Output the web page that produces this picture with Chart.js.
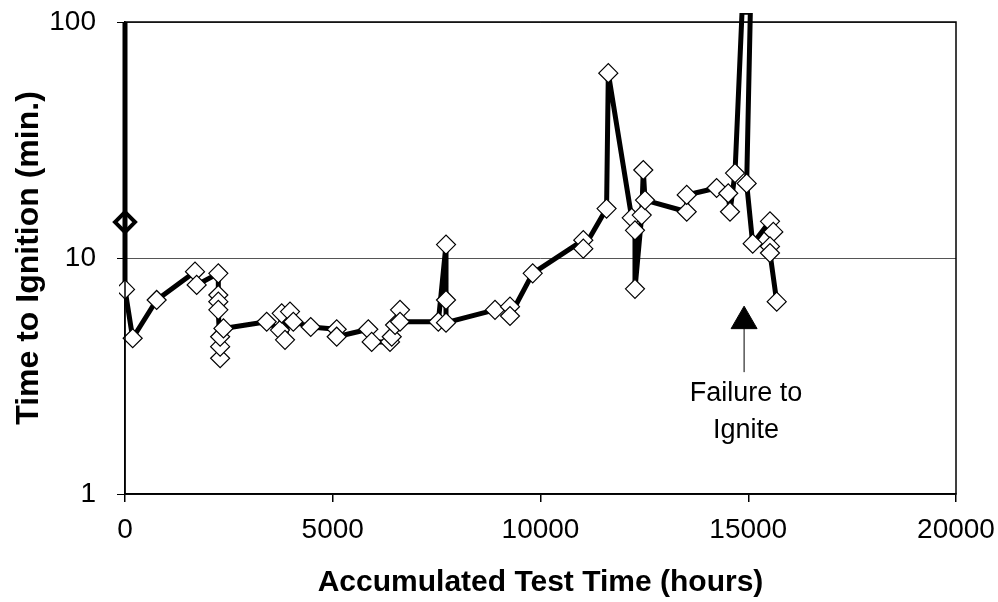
<!DOCTYPE html>
<html>
<head>
<meta charset="utf-8">
<script src="https://cdn.jsdelivr.net/npm/chart.js@4"></script>
<style>
  html, body { margin: 0; padding: 0; background: #fff; }
  #wrap { width: 998px; height: 602px; }
</style>
</head>
<body>
<div id="wrap"><canvas id="chart"></canvas></div>
<script>
// accumulated test time (hours) and time to ignition (min.), in test order
const hours = [0, 0, 0, 185, 762, 1685, 1725, 2246, 2246, 2246, 2246, 2290, 2290, 2290, 2370,
  3410, 3730, 3771, 3851, 3971, 4051, 4470, 5095, 5095, 5856, 5937, 6378, 6420, 6500, 6619, 6619,
  7541, 7726, 7726, 7726, 8905, 9266, 9266, 9812, 11030, 11030, 11590, 11632, 12195, 12274, 12274,
  12436, 12474, 12515, 13519, 13519, 14238, 14519, 14561, 14681, 14850, 15050, 14962, 15107,
  15523, 15603, 15523, 15523, 15685];
const minutes = [100, 14.2, 7.36, 4.57, 6.64, 8.75, 7.69, 8.61, 6.97, 6.53, 6.03, 3.76, 4.21, 4.64, 5.03,
  5.37, 4.95, 5.83, 4.5, 5.93, 5.37, 5.1, 4.99, 4.64, 4.99, 4.41, 4.41, 4.64, 5.2, 6.03, 5.37,
  5.37, 11.4, 6.64, 5.32, 6.03, 6.22, 5.68, 8.61, 11.9, 10.95, 16.2, 60.7, 14.8, 13.1, 7.4,
  15.2, 23.6, 17.6, 15.7, 18.5, 19.8, 18.8, 15.7, 22.9, 110, 110, 20.7, 11.5,
  14.3, 12.9, 11.2, 10.5, 6.53];

// first test (bold marker)
const firstHours = [0];
const firstMinutes = [14.2];

// failure to ignite marker
const failHours = [14900];
const failMinutes = [5.4];

const xTicks = [0, 5000, 10000, 15000, 20000];
const yTicks = [1, 10, 100];

const FONT = '"Liberation Sans", Arial, sans-serif';
const toPoints = (xs, ys) => xs.map((x, i) => ({ x: x, y: ys[i] }));

const frame = {
  id: 'frame',
  afterDatasetsDraw(chart) {
    const { ctx, chartArea: a, scales } = chart;
    ctx.save();
    ctx.strokeStyle = '#000';
    ctx.lineWidth = 1.5;
    ctx.strokeRect(a.left, a.top, a.right - a.left, a.bottom - a.top);

    // arrow stem + label under the failure marker
    const px = scales.x.getPixelForValue(failHours[0]);
    const py = scales.y.getPixelForValue(failMinutes[0]);
    ctx.lineWidth = 1;
    ctx.beginPath();
    ctx.moveTo(px, py + 7);
    ctx.lineTo(px, py + 51);
    ctx.stroke();
    ctx.fillStyle = '#000';
    ctx.font = '27px ' + FONT;
    ctx.textAlign = 'center';
    ctx.textBaseline = 'middle';
    ctx.fillText('Failure to', px + 2, py + 72);
    ctx.fillText('Ignite', px + 2, py + 109);
    ctx.restore();
  }
};

new Chart(document.getElementById('chart'), {
  type: 'scatter',
  data: {
    datasets: [{
      data: toPoints(hours, minutes),
      showLine: true,
      borderColor: '#000',
      borderWidth: 5,
      borderJoinStyle: 'bevel',
      pointStyle: 'rectRot',
      pointRadius: ctx => (ctx.raw && (ctx.raw.y >= 100 || ctx.dataIndex === 1)) ? 0 : 9.5,
      pointBackgroundColor: '#fff',
      pointBorderColor: '#000',
      pointBorderWidth: 1.2,
      clip: { left: 6, top: 9, right: 6, bottom: 6 }
    }, {
      data: toPoints(firstHours, firstMinutes),
      pointStyle: 'rectRot',
      pointRadius: 10,
      pointBackgroundColor: '#fff',
      pointBorderColor: '#000',
      pointBorderWidth: 4,
      clip: false
    }, {
      data: toPoints(failHours, failMinutes),
      pointStyle: 'triangle',
      pointRadius: 15,
      pointBackgroundColor: '#000',
      pointBorderColor: '#000',
      pointBorderWidth: 1
    }]
  },
  options: {
    responsive: true,
    maintainAspectRatio: false,
    animation: false,
    layout: { autoPadding: false, padding: { left: 0, top: 22, right: 42, bottom: 0 } },
    plugins: { legend: { display: false }, tooltip: { enabled: false } },
    scales: {
      x: {
        type: 'linear',
        min: 0,
        max: 20000,
        afterBuildTicks: s => { s.ticks = xTicks.map(v => ({ value: v })); },
        afterFit: s => { s.height = 108; s.paddingLeft = 0; s.paddingRight = 0; },
        ticks: {
          color: '#000',
          padding: 11,
          font: { family: FONT, size: 28 },
          callback: v => String(v)
        },
        grid: { drawOnChartArea: false, color: '#000', lineWidth: 1.5, tickLength: 8 },
        border: { color: '#000', width: 1.5 },
        title: {
          display: true,
          text: 'Accumulated Test Time (hours)',
          color: '#000',
          font: { family: FONT, size: 30, weight: 'bold', lineHeight: 1 },
          padding: { top: 4, bottom: 4 }
        }
      },
      y: {
        type: 'logarithmic',
        min: 1,
        max: 100,
        afterBuildTicks: s => { s.ticks = yTicks.map(v => ({ value: v, major: true })); },
        afterFit: s => { s.width = 125; s.paddingTop = 0; s.paddingBottom = 0; },
        ticks: {
          color: '#000',
          padding: 21,
          font: { family: FONT, size: 28 },
          callback: v => String(v)
        },
        grid: { color: '#555', lineWidth: 1, tickLength: 8, tickColor: '#000' },
        border: { color: '#000', width: 1.5 },
        title: {
          display: true,
          text: 'Time to Ignition (min.)',
          color: '#000',
          font: { family: FONT, size: 32, weight: 'bold', lineHeight: 1 },
          padding: { top: 13, bottom: 13 }
        }
      }
    }
  },
  plugins: [frame]
});
</script>
</body>
</html>
